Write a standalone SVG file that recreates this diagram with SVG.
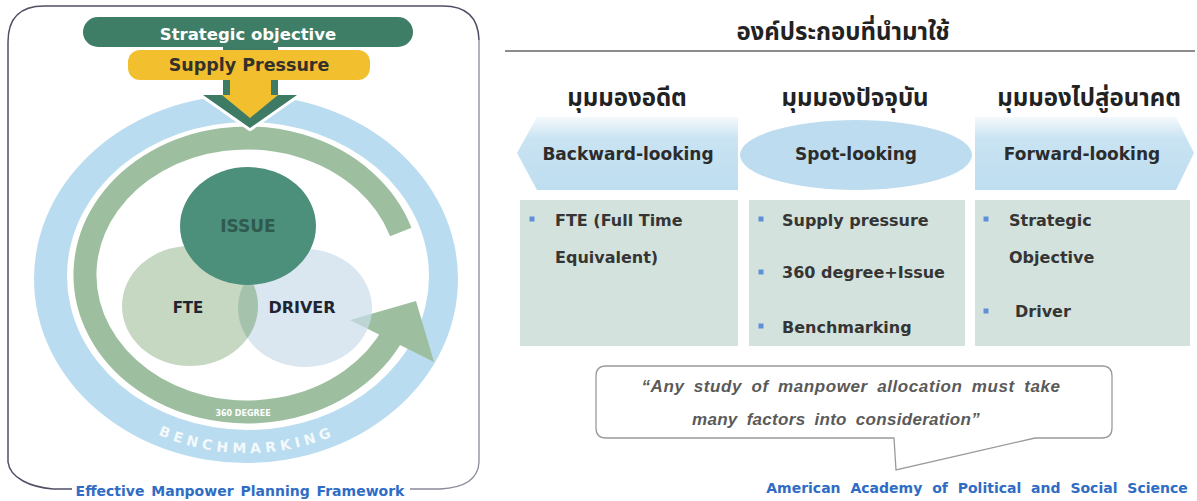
<svg xmlns="http://www.w3.org/2000/svg" width="1197" height="501" viewBox="0 0 1197 501">
<defs>
<style>
.dv{font-family:"DejaVu Sans","Liberation Sans",sans-serif;font-weight:bold}
.th{font-family:"Noto Sans Thai","Noto Sans","DejaVu Sans",sans-serif;font-weight:bold;fill:#222;text-anchor:middle}
.box{fill:#d3e2dc}
.bul{fill:#5f8fd6}
.bt{font-family:"DejaVu Sans","Liberation Sans",sans-serif;font-weight:bold;font-size:16px;fill:#353535}
.ban{font-family:"DejaVu Sans","Liberation Sans",sans-serif;font-weight:bold;font-size:17px;fill:#2c2c2c;text-anchor:middle}
.cap{font-family:"DejaVu Sans","Liberation Sans",sans-serif;font-weight:bold;font-size:14px;fill:#2f6cc4}
</style>
<linearGradient id="bang" x1="0" y1="0" x2="0" y2="1">
<stop offset="0" stop-color="#f4f9fc"/>
<stop offset="0.3" stop-color="#c9e3f2"/>
<stop offset="1" stop-color="#bedef0"/>
</linearGradient>
<clipPath id="fteClip"><ellipse cx="190" cy="306" rx="68" ry="60"/></clipPath>
<path id="benchPath" d="M60,338 A199 175 0 0 0 434,338"/>
</defs>
<rect width="1197" height="501" fill="#ffffff"/>

<g id="left-panel">
<path d="M72,489 L53,489 C30,487 10,478 8,462 L8,42 Q8,6 44,6 L443,6 Q478,6 479,40" fill="none" stroke="#4f4f66" stroke-width="1.5"/>
<path d="M479,40 L479,462 Q478,487 440,489 L410,489" fill="none" stroke="#8a8a9a" stroke-width="1.3"/>
<text class="cap" x="240" y="496" text-anchor="middle" word-spacing="2">Effective Manpower Planning Framework</text>
</g>

<g id="benchmarking">
<path fill="#badcf0" fill-rule="evenodd" d="M34,279 A212 184 0 1 0 458,279 A212 184 0 1 0 34,279 Z M67,276 A181 154 0 1 0 429,276 A181 154 0 1 0 67,276 Z"/>
<text class="dv" font-size="14" fill="#ffffff" fill-opacity="0.85" letter-spacing="4.5"><textPath href="#benchPath" startOffset="50%" text-anchor="middle">BENCHMARKING</textPath></text>
</g>

<g id="connectors">
<path id="arc-360" d="M400.8,232 A162 137 0 1 0 393.8,332.9" fill="none" stroke="#9ebf9f" stroke-width="23"/>
<polygon points="350,320 416,301 434,362" fill="#9ebf9f"/>
<text class="dv" x="243" y="415.5" font-size="8" fill="#ffffff" text-anchor="middle">360 DEGREE</text>
<g id="down-arrow">
<polygon points="223,45 278,45 278,95 297,95 250,128 203,95 223,95" fill="#ffffff" stroke="#ffffff" stroke-width="6" stroke-linejoin="round"/>
<polygon points="223,45 278,45 278,95 297,95 250,128 203,95 223,95" fill="#3d7b65"/>
<polygon points="230,78 271,78 271,95 278,95 250,118 222,95 230,95" fill="#f2c02f"/>
</g>
</g>

<g id="fte">
<ellipse cx="190" cy="306" rx="68" ry="60" fill="#c6d7c2"/>
</g>
<g id="driver">
<ellipse cx="305" cy="308" rx="67" ry="59" fill="rgb(202,221,235)" fill-opacity="0.7"/>
<ellipse cx="305" cy="308" rx="67" ry="59" clip-path="url(#fteClip)" fill="#a5c3ac"/>
</g>
<g id="issue">
<ellipse cx="248" cy="226" rx="68" ry="59" fill="#4c8f7b"/>
<text class="dv" x="248" y="232" font-size="17" fill="#2f5a4e" text-anchor="middle">ISSUE</text>
</g>
<text class="dv" x="188" y="313" font-size="15" fill="#1e2530" text-anchor="middle">FTE</text>
<text class="dv" x="302" y="313" font-size="16" fill="#1e2530" text-anchor="middle">DRIVER</text>

<g id="strategic-objective">
<rect x="83" y="17" width="330" height="30" rx="15" fill="#3e7d66"/>
<text class="dv" x="248" y="39.5" font-size="16.5" fill="#ffffff" text-anchor="middle">Strategic objective</text>
</g>
<g id="supply-pressure">
<rect x="128" y="50" width="242" height="30" rx="12" fill="#f2c02f"/>
<text class="dv" x="249" y="71" font-size="17.5" fill="#34302a" text-anchor="middle">Supply Pressure</text>
</g>

<g id="right-title">
<text class="th" x="843" y="40" font-size="24">องค์ประกอบที่นำมาใช้</text>
<line x1="505" y1="51" x2="1195" y2="51" stroke="#8c8c8c" stroke-width="2"/>
</g>

<g id="col-backward">
<text class="th" x="627" y="106" font-size="24">มุมมองอดีต</text>
<polygon points="537,117 738,117 738,190 537,190 517,153" fill="url(#bang)"/>
<text class="ban" x="628" y="160">Backward-looking</text>
<rect class="box" x="520" y="200" width="218" height="146"/>
<rect class="bul" x="529.5" y="216.5" width="5" height="5"/>
<text class="bt" x="555" y="226" font-size="16.5">FTE (Full Time</text>
<text class="bt" x="555" y="263" font-size="16.5">Equivalent)</text>
</g>

<g id="col-spot">
<text class="th" x="855" y="106" font-size="24">มุมมองปัจจุบัน</text>
<ellipse cx="856" cy="155" rx="116" ry="35" fill="#bddcef"/>
<text class="ban" x="856" y="160">Spot-looking</text>
<rect class="box" x="749" y="200" width="216" height="146"/>
<rect class="bul" x="758.5" y="216.5" width="5" height="5"/>
<text class="bt" x="782" y="226">Supply pressure</text>
<rect class="bul" x="758.5" y="269.5" width="5" height="5"/>
<text class="bt" x="782" y="278" font-size="17.5">360 degree+Issue</text>
<rect class="bul" x="758.5" y="323.5" width="5" height="5"/>
<text class="bt" x="782" y="333">Benchmarking</text>
</g>

<g id="col-forward">
<text class="th" x="1089" y="106" font-size="24">มุมมองไปสู่อนาคต</text>
<polygon points="975,117 1176,117 1194,153 1176,190 975,190" fill="url(#bang)"/>
<text class="ban" x="1082" y="160">Forward-looking</text>
<rect class="box" x="975" y="200" width="215" height="146"/>
<rect class="bul" x="983.5" y="216.5" width="5" height="5"/>
<text class="bt" x="1009" y="226">Strategic</text>
<text class="bt" x="1009" y="263">Objective</text>
<rect class="bul" x="983.5" y="308.5" width="5" height="5"/>
<text class="bt" x="1015" y="317">Driver</text>
</g>

<g id="quote">
<path d="M606,366 H1102 Q1112,366 1112,376 V428 Q1112,438 1102,438 H1035 L896,470 L894,438 H606 Q596,438 596,428 V376 Q596,366 606,366 Z" fill="#ffffff" stroke="#9a9a9a" stroke-width="1.3"/>
<text x="851" y="392" font-family="Liberation Sans, sans-serif" font-weight="bold" font-style="italic" font-size="17" fill="#5a5a5a" text-anchor="middle" word-spacing="4" letter-spacing="0.6">“Any study of manpower allocation must take</text>
<text x="836" y="425" font-family="Liberation Sans, sans-serif" font-weight="bold" font-style="italic" font-size="17" fill="#5a5a5a" text-anchor="middle" word-spacing="4" letter-spacing="0.3">many factors into consideration”</text>
</g>
<text class="cap" x="977" y="493" text-anchor="middle" word-spacing="5">American Academy of Political and Social Science</text>
</svg>
